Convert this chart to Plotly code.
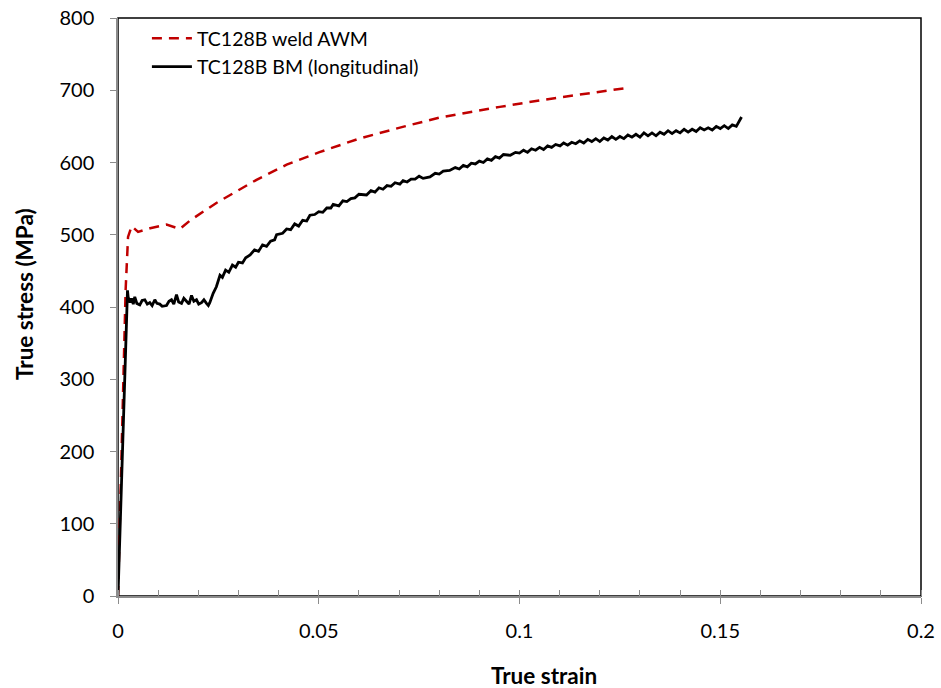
import plotly.graph_objects as go

# TC128B weld AWM (red dashed)
weld_strain = [0, 0.0019, 0.0025, 0.0034, 0.0050, 0.0080, 0.0121, 0.0154, 0.0180, 0.0212,
               0.0245, 0.0345, 0.0420, 0.0500, 0.0600, 0.0714, 0.0800, 0.0951, 0.1050,
               0.1150, 0.1266]
weld_stress = [0, 424, 497, 512, 504, 509, 514, 508, 520, 532,
               544, 576, 597, 614, 633, 650, 662, 677, 686,
               694, 703]

# TC128B BM (longitudinal) (black)
bm_strain = [0, 0.00236, 0.00252, 0.0030, 0.00336, 0.0038, 0.00418, 0.0047, 0.00543, 0.0060,
             0.00668, 0.0073, 0.00792, 0.0085, 0.00917, 0.0097, 0.01041, 0.0110, 0.01208, 0.0127,
             0.01332, 0.0139, 0.01457, 0.0151, 0.01582, 0.0164, 0.01706, 0.0177, 0.01831, 0.0189,
             0.01955, 0.0201, 0.0208, 0.0214, 0.02204, 0.0225, 0.02286, 0.0232, 0.0237, 0.0245,
             0.0254, 0.0260, 0.0268, 0.0276, 0.0285, 0.0293, 0.0300, 0.0310, 0.0318, 0.0329,
             0.0340, 0.0350, 0.0360, 0.0370, 0.0380, 0.0390, 0.0395, 0.0410, 0.0420, 0.0430,
             0.0440, 0.0450, 0.0460, 0.0470, 0.0478, 0.0490, 0.0500, 0.0510, 0.0520, 0.0530,
             0.0536, 0.0550, 0.0560, 0.0570, 0.0580, 0.0590, 0.0600, 0.0619, 0.0630, 0.0640,
             0.0650, 0.0660, 0.0670, 0.0680, 0.0690, 0.0702, 0.0710, 0.0720, 0.0730, 0.0740,
             0.0750, 0.0760, 0.0777, 0.0790, 0.0800, 0.0810, 0.0826, 0.0840, 0.0850, 0.0860,
             0.0870, 0.0880, 0.0890, 0.0900, 0.0910, 0.0920, 0.0930, 0.0940, 0.0950, 0.0960,
             0.0977, 0.0990, 0.1000, 0.1010, 0.1020, 0.1030, 0.1040, 0.1050, 0.1060, 0.1070,
             0.1080, 0.1090, 0.1101, 0.1110, 0.1120, 0.1130, 0.1140, 0.1150, 0.1160, 0.1170,
             0.1180, 0.1190, 0.1200, 0.1210, 0.1220, 0.1230, 0.1240, 0.1250, 0.1260, 0.1270,
             0.1280, 0.1290, 0.1300, 0.1310, 0.1320, 0.1330, 0.1340, 0.1350, 0.1360, 0.1370,
             0.1380, 0.1390, 0.1400, 0.1410, 0.1420, 0.1430, 0.1440, 0.1450, 0.1460, 0.1470,
             0.1480, 0.1490, 0.1500, 0.1510, 0.1520, 0.1530, 0.1540, 0.1553]
bm_stress = [0, 423, 414, 406, 412, 404, 414, 405, 403, 409,
             410, 404, 406, 402, 410, 405, 404, 401, 402, 408,
             410, 404, 417, 407, 405, 412, 408, 404, 416, 408,
             410, 404, 406, 410, 405, 402, 406, 412, 419, 428,
             444, 441, 451, 448, 458, 455, 462, 461, 468, 472,
             479, 477, 486, 484, 491, 493, 500, 502, 508, 507,
             515, 512, 520, 519, 527, 528, 532, 531, 537, 537,
             542, 540, 547, 546, 550, 551, 556, 555, 561, 559,
             565, 563, 568, 567, 572, 570, 575, 573, 577, 577,
             581, 578, 580, 585, 584, 588, 589, 593, 591, 596,
             594, 599, 598, 602, 600, 605, 603, 608, 606, 611,
             610, 614, 613, 617, 614, 619, 617, 621, 618, 623,
             621, 625, 623, 627, 624, 628, 626, 630, 627, 632,
             629, 633, 629, 634, 631, 636, 632, 636, 633, 638,
             635, 639, 635, 641, 637, 641, 637, 642, 639, 644,
             640, 644, 641, 646, 642, 646, 643, 648, 645, 648,
             645, 650, 647, 651, 647, 652, 650, 663]

x_ticks = [0, 0.05, 0.1, 0.15, 0.2]
x_tick_labels = ["0", "0.05", "0.1", "0.15", "0.2"]
y_ticks = [0, 100, 200, 300, 400, 500, 600, 700, 800]

FONT = "Lato, 'Open Sans', sans-serif"

fig = go.Figure()
fig.add_trace(go.Scatter(
    x=weld_strain, y=weld_stress, mode="lines", name="TC128B weld AWM",
    line=dict(color="#C00000", width=2.5, dash="10px,7px"),
))
fig.add_trace(go.Scatter(
    x=bm_strain, y=bm_stress, mode="lines", name="TC128B BM (longitudinal)",
    line=dict(color="black", width=2.8),
))

fig.add_shape(type="rect", xref="paper", yref="paper", x0=0, y0=0, x1=1, y1=1,
              line=dict(color="black", width=1.5), layer="below")

# axis titles as annotations (positioned like the reference)
fig.add_annotation(text="<b>True strain</b>", xref="paper", yref="paper",
                   x=0.5305, y=0, yshift=-79, xanchor="center", yanchor="middle",
                   showarrow=False, font=dict(size=22.5, family=FONT, color="black"))
fig.add_annotation(text="<b>True stress (MPa)</b>", xref="paper", yref="paper",
                   x=0, y=0.5225, xshift=-93, xanchor="center", yanchor="middle",
                   textangle=-90, showarrow=False,
                   font=dict(size=22.5, family=FONT, color="black"))

fig.update_layout(
    width=941, height=688,
    margin=dict(l=118, r=20, t=18, b=92, autoexpand=False),
    paper_bgcolor="white", plot_bgcolor="white",
    font=dict(family=FONT, size=20, color="black"),
    showlegend=True,
    legend=dict(x=0.036, y=0.998, xanchor="left", yanchor="top",
                bgcolor="rgba(0,0,0,0)", font=dict(size=19.5), itemwidth=40,
                tracegroupgap=0),
    xaxis=dict(
        range=[0, 0.2], tickvals=x_ticks, ticktext=x_tick_labels,
        showgrid=False, zeroline=False, automargin=False,
        ticklabeloverflow="allow",
        showline=True, linecolor="#8c8c8c", linewidth=1.5,
        ticks="outside", ticklen=6, tickcolor="#8c8c8c", tickwidth=1,
        minor=dict(dtick=0.01, ticks="inside", ticklen=6, tickcolor="#8c8c8c", tickwidth=1, showgrid=False),
        ticklabelstandoff=10,
    ),
    yaxis=dict(
        range=[0, 800], tickvals=y_ticks,
        showgrid=False, zeroline=False, automargin=False,
        ticklabeloverflow="allow",
        showline=True, linecolor="#8c8c8c", linewidth=1.5,
        ticks="outside", ticklen=6, tickcolor="#8c8c8c", tickwidth=1,
        ticklabelstandoff=12,
    ),
)

fig.write_html("out.html", config={"displayModeBar": False},
               post_script="document.body.style.margin='0px';")
